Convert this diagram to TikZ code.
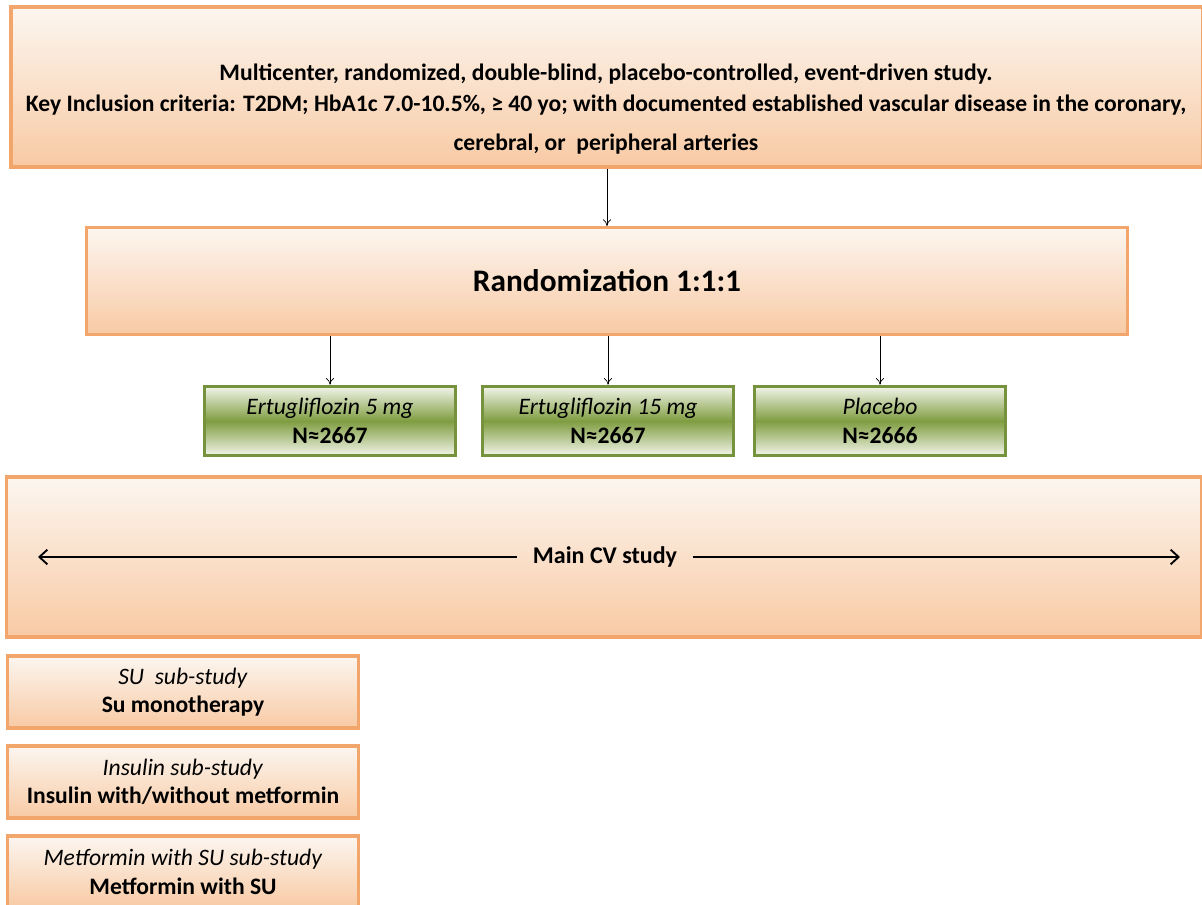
\documentclass[tikz,border=0pt]{standalone}
\usepackage{fontspec}
\setmainfont{Carlito}
\usetikzlibrary{arrows.meta}
\definecolor{peachborder}{HTML}{F2A66C}
\definecolor{peachtop}{HTML}{FCF6F0}
\definecolor{peachbottom}{HTML}{F8CAA4}
\definecolor{oliveborder}{HTML}{76923C}
\definecolor{olivemid}{HTML}{7F9D40}
\definecolor{olivelight}{HTML}{F2F5EA}

\begin{document}
\begin{tikzpicture}[x=0.75pt,y=-0.75pt,
    peachbox/.style={draw=peachborder,line width=2.4pt,top color=peachtop,bottom color=peachbottom,inner sep=0pt},
    olivebox/.style={draw=oliveborder,line width=2.4pt,top color=olivelight,bottom color=olivelight,middle color=olivemid,inner sep=0pt,minimum width=188pt,minimum height=52pt,align=center,font=\fontsize{17.7}{22}\selectfont},
    subbox/.style={peachbox,minimum width=263pt,minimum height=54pt,align=center,font=\fontsize{17.7}{21.5}\selectfont},
    thinarrow/.style={-{To[length=5pt,width=6pt]},line width=0.5pt}]
          \useasboundingbox (0,0) rectangle (1202,905);
          % study header
          \node [peachbox,minimum width=894pt,minimum height=120pt] (study) at (607,87) {};
          \node [align=center,font=\bfseries\fontsize{17.7}{23}\selectfont] (studytxt) at (606,109)
                {Multicenter, randomized, double-blind, placebo-controlled, event-driven study.\\
                 Key Inclusion criteria: T2DM; HbA1c 7.0-10.5\%, ≥ 40 yo; with documented established vascular disease in the coronary,\\[6pt]
                 cerebral, or\ \ peripheral arteries};
          % randomization
          \node [peachbox,minimum width=781pt,minimum height=80pt,font=\bfseries\fontsize{23.5}{28}\selectfont] (rand) at (607,281) {Randomization 1:1:1};
          \draw [thinarrow] (study.south) -- (rand.north);
          % arms
          \node [olivebox] (ertu5) at (330,421) {\textit{Ertugliflozin 5 mg}\\ \textbf{N≈2667}};
          \node [olivebox] (ertu15) at (608,421) {\textit{Ertugliflozin 15 mg}\\ \textbf{N≈2667}};
          \node [olivebox] (plac) at (880,421) {\textit{Placebo}\\ \textbf{N≈2666}};
          \draw [thinarrow] (rand.south -| ertu5.north) -- (ertu5.north);
          \draw [thinarrow] (rand.south -| ertu15.north) -- (ertu15.north);
          \draw [thinarrow] (rand.south -| plac.north) -- (plac.north);
          % main CV study
          \node [peachbox,minimum width=896pt,minimum height=120pt] (maincv) at (604,557) {};
          \node [font=\bfseries\fontsize{18}{20}\selectfont,inner xsep=12pt] (cvtxt) at (605,557) {Main CV study};
          \coordinate (cvleft) at (38,557);
          \coordinate (cvright) at (1180,557);
          \draw [-{Straight Barb[length=6pt,width=11pt]},line width=1.4pt] (cvtxt.west) -- (cvleft);
          \draw [-{Straight Barb[length=6pt,width=11pt]},line width=1.4pt] (cvtxt.east) -- (cvright);
          % sub-studies
          \node [subbox] (su) at (183,692) {\textit{SU\ \ sub-study}\\ \textbf{Su monotherapy}};
          \node [subbox] (ins) at (183,782) {\textit{Insulin sub-study}\\ \textbf{Insulin with/without metformin}};
          \node [subbox] (metsu) at (183,872) {\textit{Metformin with SU sub-study}\\ \textbf{Metformin with SU}};
\end{tikzpicture}
\end{document}
